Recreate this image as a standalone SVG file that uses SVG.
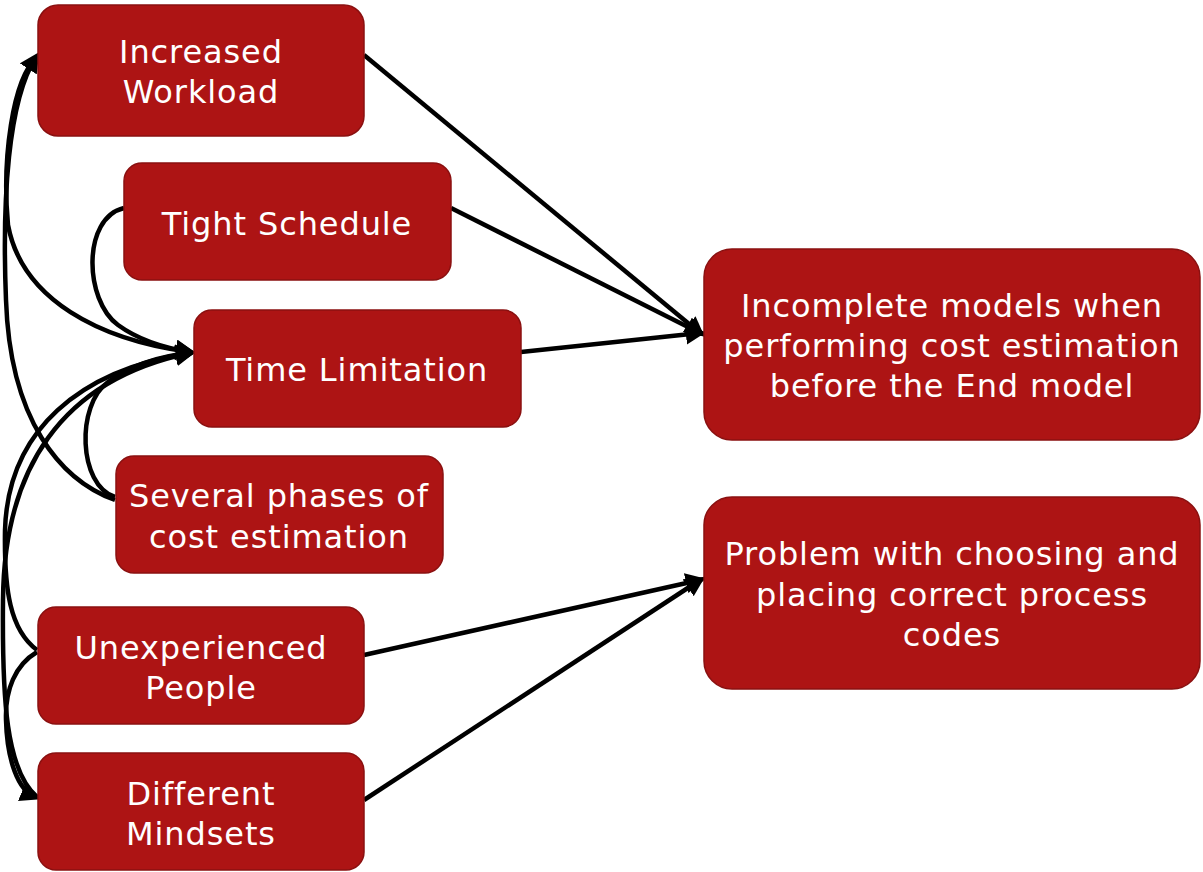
<svg xmlns="http://www.w3.org/2000/svg" width="1203" height="872" viewBox="0 0 1203 872">
  <style>
    .box { fill: #ad1414; stroke: #8a1010; stroke-width: 1.5; }
    .lbl { fill: #ffffff; font-family: "DejaVu Sans", "Liberation Sans", sans-serif; font-size: 32px; letter-spacing: 0.9px; text-anchor: middle; }
    .edge { fill: none; stroke: #000000; stroke-width: 4.5; marker-end: url(#arrow); }
  </style>
  <defs>
    <marker id="arrow" viewBox="0 0 10 10" refX="7" refY="5" markerWidth="4.5" markerHeight="4.5" orient="auto" markerUnits="strokeWidth">
      <path d="M0,0 L10,5 L0,10 z" fill="#000000"/>
    </marker>
  </defs>

  <rect width="1203" height="872" fill="#ffffff"/>

  <!-- connectors -->
  <g id="connectors">
    <!-- straight links to the two outcomes -->
    <path class="edge" d="M364,55 L700,333"/>
    <path class="edge" d="M451,208 L700,333"/>
    <path class="edge" d="M521,352 L700,333"/>
    <path class="edge" d="M364,655 L700,580"/>
    <path class="edge" d="M364,800 L700,580"/>

    <!-- curved links on the left -->
    <path class="edge" d="M37,57 C12,80 2,160 8,225 C22,300 100,340 190,352"/>
    <path class="edge" d="M115,500 C60,480 10,420 6,300 C2,200 8,100 36,57"/>
    <path class="edge" d="M124,208 C82,218 84,300 118,325 C140,341 165,348 190,352"/>
    <path class="edge" d="M115,497 C78,485 76,405 108,382 C133,364 160,356 190,353"/>
    <path class="edge" d="M37,650 C10,630 4,590 5,530 C8,430 80,370 190,353"/>
    <path class="edge" d="M37,797 C6,770 2,700 3,600 C4,470 60,380 190,353"/>
    <path class="edge" d="M37,652 C15,665 5,690 6,720 C7,760 18,790 35,797"/>
  </g>

  <g id="increased-workload">
    <rect class="box" x="38" y="5" width="326" height="131" rx="20"/>
    <text class="lbl" x="201" y="63">Increased</text>
    <text class="lbl" x="201" y="103">Workload</text>
  </g>

  <g id="tight-schedule">
    <rect class="box" x="124" y="163" width="327" height="117" rx="18"/>
    <text class="lbl" x="287" y="235">Tight Schedule</text>
  </g>

  <g id="time-limitation">
    <rect class="box" x="194" y="310" width="327" height="117" rx="18"/>
    <text class="lbl" x="357" y="381">Time Limitation</text>
  </g>

  <g id="several-phases">
    <rect class="box" x="116" y="456" width="327" height="117" rx="18"/>
    <text class="lbl" x="279" y="507">Several phases of</text>
    <text class="lbl" x="279" y="548">cost estimation</text>
  </g>

  <g id="unexperienced-people">
    <rect class="box" x="38" y="607" width="326" height="117" rx="18"/>
    <text class="lbl" x="201" y="659">Unexperienced</text>
    <text class="lbl" x="201" y="699">People</text>
  </g>

  <g id="different-mindsets">
    <rect class="box" x="38" y="753" width="326" height="117" rx="18"/>
    <text class="lbl" x="201" y="805">Different</text>
    <text class="lbl" x="201" y="845">Mindsets</text>
  </g>

  <g id="incomplete-models">
    <rect class="box" x="704" y="249" width="496" height="191" rx="28"/>
    <text class="lbl" x="952" y="317">Incomplete models when</text>
    <text class="lbl" x="952" y="357">performing cost estimation</text>
    <text class="lbl" x="952" y="397">before the End model</text>
  </g>

  <g id="process-codes">
    <rect class="box" x="704" y="497" width="496" height="192" rx="28"/>
    <text class="lbl" x="952" y="565">Problem with choosing and</text>
    <text class="lbl" x="952" y="606">placing correct process</text>
    <text class="lbl" x="952" y="646">codes</text>
  </g>
</svg>
